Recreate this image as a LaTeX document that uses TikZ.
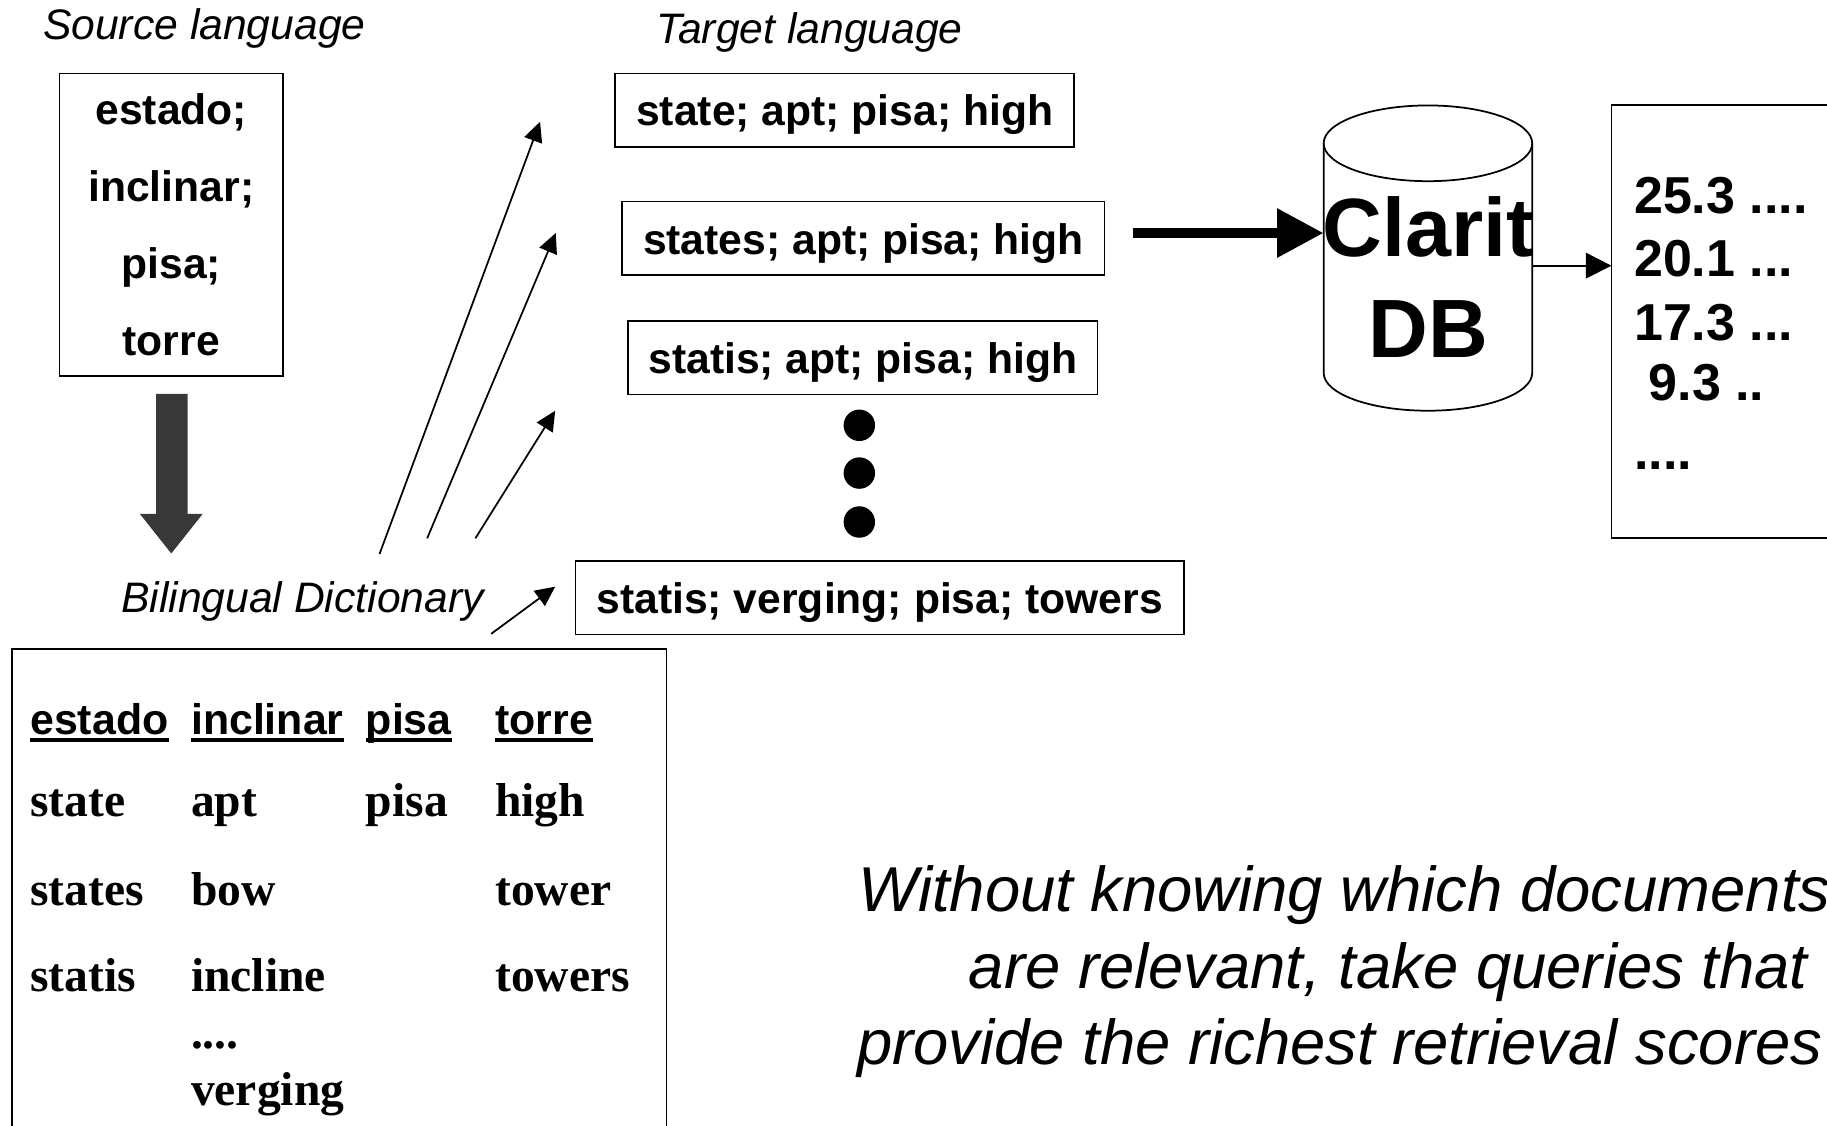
\documentclass[tikz,border=0pt]{standalone}
\usepackage{fontspec}
\setmainfont{Liberation Sans}
\newfontfamily\dictfont{Liberation Serif}
\usetikzlibrary{arrows.meta,calc}
\definecolor{arrowgray}{HTML}{383838}
\begin{document}
\begin{tikzpicture}[x=1pt,y=-1pt,
  every node/.style={inner sep=0pt,outer sep=0pt},
  caption/.style={anchor=base west,font=\fontsize{36.6}{43}\selectfont\itshape},
  srcword/.style={anchor=base,font=\fontsize{36.6}{43}\selectfont\bfseries},
  query/.style={draw,line width=1.5pt,minimum height=63pt,text height=27pt,text depth=0pt,
                font=\fontsize{36.6}{43}\selectfont\bfseries},
  frame/.style={draw,line width=1.5pt},
  headword/.style={anchor=base west,font=\fontsize{36.8}{43}\selectfont\bfseries},
  entry/.style={anchor=base west,font=\dictfont\fontsize{40.8}{48}\selectfont\bfseries},
  score/.style={anchor=base west,font=\fontsize{44.6}{52}\selectfont\bfseries},
  dbtext/.style={anchor=base,font=\fontsize{71}{80}\selectfont\bfseries},
  note/.style={anchor=base west,font=\fontsize{54.4}{64}\selectfont\itshape},
  link/.style={line width=1.5pt,-{Triangle[length=17pt,width=16pt]}},
]
\useasboundingbox (0,0) rectangle (1568,966);
\clip (0,0) rectangle (1568,966);

% captions
\node[caption] (srccap) at (37,34) {Source language};
\node[caption] (tgtcap) at (563,37) {Target language};
\node[caption] (dictcap) at (104,526) {Bilingual Dictionary};

% source query
\node[frame,minimum width=192pt,minimum height=260pt] (src) at (147,193) {};
\node[srcword] (s1) at (147,107) {estado;};
\node[srcword] (s2) at (147,173) {inclinar;};
\node[srcword] (s3) at (147,239) {pisa;};
\node[srcword] (s4) at (147,305) {torre};

% block arrow down to the dictionary
\fill[arrowgray] (134,338) -- (161,338) -- (161,441) -- (174,441) -- (147,475)
  -- (120,441) -- (134,441) -- cycle;

% translated queries
\node[query,minimum width=394pt] (q1) at (725,94.5) {state; apt; pisa; high};
\node[query,minimum width=414pt] (q2) at (741,204.5) {states; apt; pisa; high};
\node[query,minimum width=403pt] (q3) at (740.5,307) {statis; apt; pisa; high};
\node[query,minimum width=522pt] (q4) at (755,513) {statis; verging; pisa; towers};

% vertical ellipsis
\foreach \y [count=\i] in {365,406,448}
  \fill (737.5,\y) circle[radius=13.5pt] coordinate (dot\i);

% links from the dictionary to the queries
\coordinate (t1) at (325.7,475.5); \coordinate (p1) at (463.5,104.5);
\coordinate (t2) at (366.6,462);   \coordinate (p2) at (477,200);
\coordinate (t3) at (408,462);     \coordinate (p3) at (476.5,352.5);
\coordinate (t4) at (421.5,544);   \coordinate (p4) at (476.5,503.5);
\draw[link] (t1) -- (p1);
\draw[link] (t2) -- (p2);
\draw[link] (t3) -- (p3);
\draw[link] (t4) -- (p4);

% database cylinder
\coordinate (dbw) at (1136,200);
\coordinate (dbe) at (1315,228);
\draw[line width=1.5pt,fill=white] (1136,123) -- (1136,320)
  .. controls (1136,337.95) and (1176.07,352.5) .. (1225.5,352.5)
  .. controls (1274.93,352.5) and (1315,337.95) .. (1315,320) -- (1315,123);
\draw[line width=1.5pt] (1225.5,123) ellipse[x radius=89.5, y radius=32.5];
\node[dbtext] (db1) at (1226,220.5) {Clarit};
\node[dbtext] (db2) at (1226,307) {DB};

% query into the database
\coordinate (qout) at (972,200);
\draw[line width=9pt,-{Triangle[length=40pt,width=40pt]}] (qout) -- (dbw);

% results
\node[frame,minimum width=300pt,minimum height=372pt,anchor=north west] (res) at (1383,90) {};
\draw[line width=1.5pt,-{Triangle[length=22pt,width=22pt]}] (dbe) -- (res.west |- dbe);
\node[score] (r1) at (1402.5,183) {25.3 ....};
\node[score] (r2) at (1402.5,237.5) {20.1 ...};
\node[score] (r3) at (1402.5,292) {17.3 ...};
\node[score] (r4) at (1415,343.3) {9.3 ..};
\node[score] (r5) at (1402.5,403) {....};

% dictionary table
\node[frame,minimum width=562pt,minimum height=480pt,anchor=north west] (dict) at (10,557) {};
\node[headword] (h1) at (26,630) {estado};
\node[headword] (h2) at (164,630) {inclinar};
\node[headword] (h3) at (314,630) {pisa};
\node[headword] (h4) at (425,630) {torre};
\foreach \h in {h1,h2,h3,h4}
  \draw[line width=4pt] ($(\h.base west)+(0,5)$) -- ($(\h.base east)+(0,5)$);

\node[entry] (e11) at (26,701) {state};
\node[entry] (e12) at (164,701) {apt};
\node[entry] (e13) at (314,701) {pisa};
\node[entry] (e14) at (425,701) {high};
\node[entry] (e21) at (26,777) {states};
\node[entry] (e22) at (164,777) {bow};
\node[entry] (e24) at (425,777) {tower};
\node[entry] (e31) at (26,851) {statis};
\node[entry] (e32) at (164,851) {incline};
\node[entry] (e34) at (425,851) {towers};
\node[entry] (e42) at (164,900) {....};
\node[entry] (e52) at (164,948.5) {verging};

% remark
\node[note] (n1) at (737,782.5) {Without knowing which documents};
\node[note] (n2) at (831.6,848) {are relevant, take queries that};
\node[note] (n3) at (735.6,914) {provide the richest retrieval scores};
\end{tikzpicture}
\end{document}
